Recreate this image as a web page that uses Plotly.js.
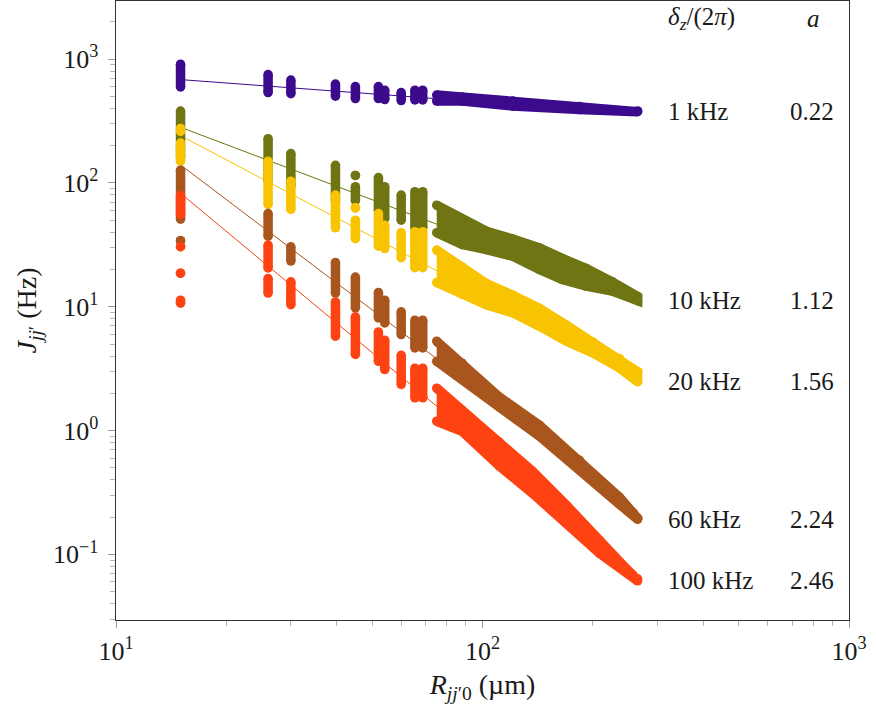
<!DOCTYPE html>
<html>
<head>
<meta charset="utf-8">
<script src="https://cdn.plot.ly/plotly-3.0.1.min.js"></script>
<style>
  html, body { margin: 0; padding: 0; background: #ffffff; }
  #chart { width: 876px; height: 709px; }
</style>
</head>
<body>
<div id="chart"></div>
<script>
// Trap detunings, fitted exponents a and fit value at the nearest-neighbour distance
const detuning = ['1 kHz', '10 kHz', '20 kHz', '60 kHz', '100 kHz'];
const exponentA = [0.22, 1.12, 1.56, 2.24, 2.46];
const fitAt15 = [684, 282, 241, 140, 82.5];
const fitSpan = [15, 265];
const seriesColors = ['#3c0a8c', '#6e7512', '#f8c300', '#a9561e', '#fe4212'];

// Axis decades and their labels
const xDecades = [10, 100, 1000];
const xDecadeLabels = ['10<sup>1</sup>', '10<sup>2</sup>', '10<sup>3</sup>'];
const yDecades = [0.1, 1, 10, 100, 1000];
const yDecadeLabels = ['10<sup>−1</sup>', '10<sup>0</sup>', '10<sup>1</sup>', '10<sup>2</sup>', '10<sup>3</sup>'];

// Discrete shells (distance in µm, lowest and highest coupling in Hz)
const r1k   = [15, 26, 30, 39.7, 45, 52, 54.1, 60, 65.4, 68.7];
const lo1k  = [596, 537, 527, 503, 481, 481, 472, 463, 468, 468];
const hi1k  = [912, 752, 678, 629, 601, 601, 562, 537, 562, 562];

const r10k  = [15, 26, 30, 39.7, 45, 45, 52, 54.1, 60, 65.4, 68.7];
const lo10k = [160, 104, 95, 72, 115, 72, 59.8, 51.5, 50.1, 43.6, 43.6];
const hi10k = [381, 228, 173, 139, 115, 93.4, 110.5, 93.4, 79.8, 85.1, 85.1];

const r20k  = [15, 15, 26, 30, 39.7, 45, 45, 52, 54.1, 60, 65.4, 68.7];
const lo20k = [261, 150, 67.1, 61.1, 43.4, 63, 35.5, 30.9, 29.5, 24.9, 20.7, 20.7];
const hi20k = [276, 210, 150, 103.5, 79.8, 63, 50.1, 56.7, 45.6, 39.7, 40.4, 40.4];

const r60k  = [15, 15, 26, 30, 39.7, 45, 52, 54.1, 60, 65.4, 68.7];
const lo60k = [51.0, 34.2, 37.2, 23.4, 12.9, 9.8, 8.13, 7.41, 5.97, 4.65, 4.65];
const hi60k = [127, 34.2, 56.7, 30.5, 22.8, 17.4, 13.05, 11.3, 9.10, 7.79, 7.79];

const r100k  = [15, 15, 15, 15, 26, 26, 30, 39.7, 45, 52, 54.1, 60, 65.4, 68.7];
const lo100k = [56.0, 30.6, 18.7, 10.7, 20.6, 12.9, 10.4, 5.79, 4.12, 3.63, 3.11, 2.36, 1.84, 1.84];
const hi100k = [79.0, 30.6, 18.7, 11.3, 31.5, 16.9, 15.9, 10.95, 8.29, 6.27, 5.37, 4.06, 3.19, 3.19];

// Dense region at larger distances: upper and lower edge of the point cloud
const bandR1k   = [75, 88, 121, 184, 265];
const bandTop1k = [513, 494, 459, 414, 382];
const bandBot1k = [459, 459, 418, 392, 377];

const bandR10k   = [75, 88, 102.5, 121, 143, 165, 192, 226, 265];
const bandTop10k = [66.2, 50.8, 40.8, 35.2, 29.9, 24.6, 20.4, 15.9, 12.1];
const bandBot10k = [39.7, 31.9, 29.0, 25.6, 20.0, 16.6, 14.7, 13.4, 11.2];

const bandR20k   = [75, 88, 102.5, 121, 143, 169.5, 200, 236.5, 265];
const bandTop20k = [28.7, 21.0, 15.4, 12.4, 9.69, 7.10, 5.20, 3.82, 2.99];
const bandBot20k = [15.7, 12.6, 10.4, 8.93, 6.97, 5.27, 4.24, 3.21, 2.48];

const bandR60k   = [75, 88, 111.3, 143, 184, 236.5, 265];
const bandTop60k = [5.27, 3.50, 1.86, 1.105, 0.576, 0.289, 0.196];
const bandBot60k = [3.63, 2.65, 1.544, 0.90, 0.487, 0.254, 0.192];

const bandR100k   = [75, 88, 111.3, 136.9, 169.5, 208.6, 265];
const bandTop100k = [2.20, 1.46, 0.805, 0.469, 0.249, 0.130, 0.0635];
const bandBot100k = [1.19, 0.988, 0.515, 0.312, 0.178, 0.102, 0.0612];

const shells = [
  [r1k, lo1k, hi1k], [r10k, lo10k, hi10k], [r20k, lo20k, hi20k],
  [r60k, lo60k, hi60k], [r100k, lo100k, hi100k]
];
const bands = [
  [bandR1k, bandTop1k, bandBot1k], [bandR10k, bandTop10k, bandBot10k],
  [bandR20k, bandTop20k, bandBot20k], [bandR60k, bandTop60k, bandBot60k],
  [bandR100k, bandTop100k, bandBot100k]
];

const DOT = 9.5;
const FONT = 'Liberation Serif, Times New Roman, serif';

// Each shell is a vertical stack of dots: a capsule from lowest to highest value
function shellTrace(r, lo, hi, color) {
  const x = [], y = [];
  r.forEach((d, i) => { x.push(d, d, null); y.push(lo[i], hi[i], null); });
  return {
    type: 'scatter', x, y, mode: 'lines+markers', connectgaps: false,
    line: { color, width: DOT }, marker: { color, size: DOT },
    hoverinfo: 'skip', showlegend: false
  };
}

// Dense cloud outline, stroked with the dot width so its rim is rounded like the dots
function bandTrace(r, top, bot, color) {
  return {
    type: 'scatter',
    x: r.concat(r.slice().reverse()),
    y: top.concat(bot.slice().reverse()),
    mode: 'lines+markers', fill: 'toself', fillcolor: color,
    line: { color, width: DOT }, marker: { color, size: DOT },
    hoverinfo: 'skip', showlegend: false
  };
}

// Power-law fits J = J(15 µm) * (R / 15 µm)^(-a)
function fitTrace(k) {
  return {
    type: 'scatter', x: fitSpan,
    y: fitSpan.map(r => fitAt15[k] * Math.pow(r / fitSpan[0], -exponentA[k])),
    mode: 'lines', line: { color: seriesColors[k], width: 1 },
    hoverinfo: 'skip', showlegend: false
  };
}

const traces = [];
seriesColors.forEach((c, k) => traces.push(fitTrace(k)));
seriesColors.forEach((c, k) => {
  traces.push(shellTrace(shells[k][0], shells[k][1], shells[k][2], c));
  traces.push(bandTrace(bands[k][0], bands[k][1], bands[k][2], c));
});

// Table of detunings and exponents, each row level with the end of its series
const TABLE_FONT = { family: FONT, size: 25, color: '#1a1a1a' };
const annotations = [
  { xref: 'paper', yref: 'paper', x: 0.7505, y: 0.9725, xanchor: 'left', yanchor: 'middle',
    text: '<i>δ</i><sub><i>z</i></sub>/(2<i>π</i>)', showarrow: false, font: TABLE_FONT },
  { xref: 'paper', yref: 'paper', x: 0.9515, y: 0.9725, xanchor: 'center', yanchor: 'middle',
    text: '<i>a</i>', showarrow: false, font: TABLE_FONT }
];
detuning.forEach((lab, k) => {
  const endVal = bands[k][2][bands[k][2].length - 1];
  annotations.push({ xref: 'paper', yref: 'y', x: 0.7505, y: Math.log10(endVal),
    xanchor: 'left', yanchor: 'middle', text: lab, showarrow: false, font: TABLE_FONT });
  annotations.push({ xref: 'paper', yref: 'y', x: 0.9825, y: Math.log10(endVal),
    xanchor: 'right', yanchor: 'middle', text: exponentA[k].toFixed(2), showarrow: false, font: TABLE_FONT });
});

const axisCommon = {
  type: 'log', tickmode: 'array', showgrid: false, zeroline: false,
  ticks: 'outside', ticklen: 7, tickwidth: 1, tickcolor: '#9a9a9a',
  showline: true, mirror: true, linecolor: '#333333', linewidth: 1.4,
  tickfont: { family: FONT, size: 26, color: '#1a1a1a' },
  minor: { ticks: 'outside', ticklen: 5, tickwidth: 1, tickcolor: '#b5b5b5', dtick: 'D1', showgrid: false }
};

const layout = {
  width: 876, height: 709,
  margin: { l: 116, r: 27, t: 1, b: 89 },
  paper_bgcolor: '#ffffff', plot_bgcolor: '#ffffff',
  font: { family: FONT, size: 24, color: '#1a1a1a' },
  showlegend: false,
  xaxis: Object.assign({}, axisCommon, {
    range: [1, 3], tickvals: xDecades, ticktext: xDecadeLabels,
    title: { text: '<i>R</i><sub><i>jj</i>′0</sub> (µm)', font: { family: FONT, size: 28 }, standoff: 10 }
  }),
  yaxis: Object.assign({}, axisCommon, {
    range: [-1.53, 3.47], tickvals: yDecades, ticktext: yDecadeLabels, ticklabelstandoff: 4,
    title: { text: '<i>J</i><sub><i>jj</i>′</sub> (Hz)', font: { family: FONT, size: 28 }, standoff: 8 }
  }),
  annotations
};

Plotly.newPlot('chart', traces, layout, { staticPlot: true, displayModeBar: false });
</script>
</body>
</html>
